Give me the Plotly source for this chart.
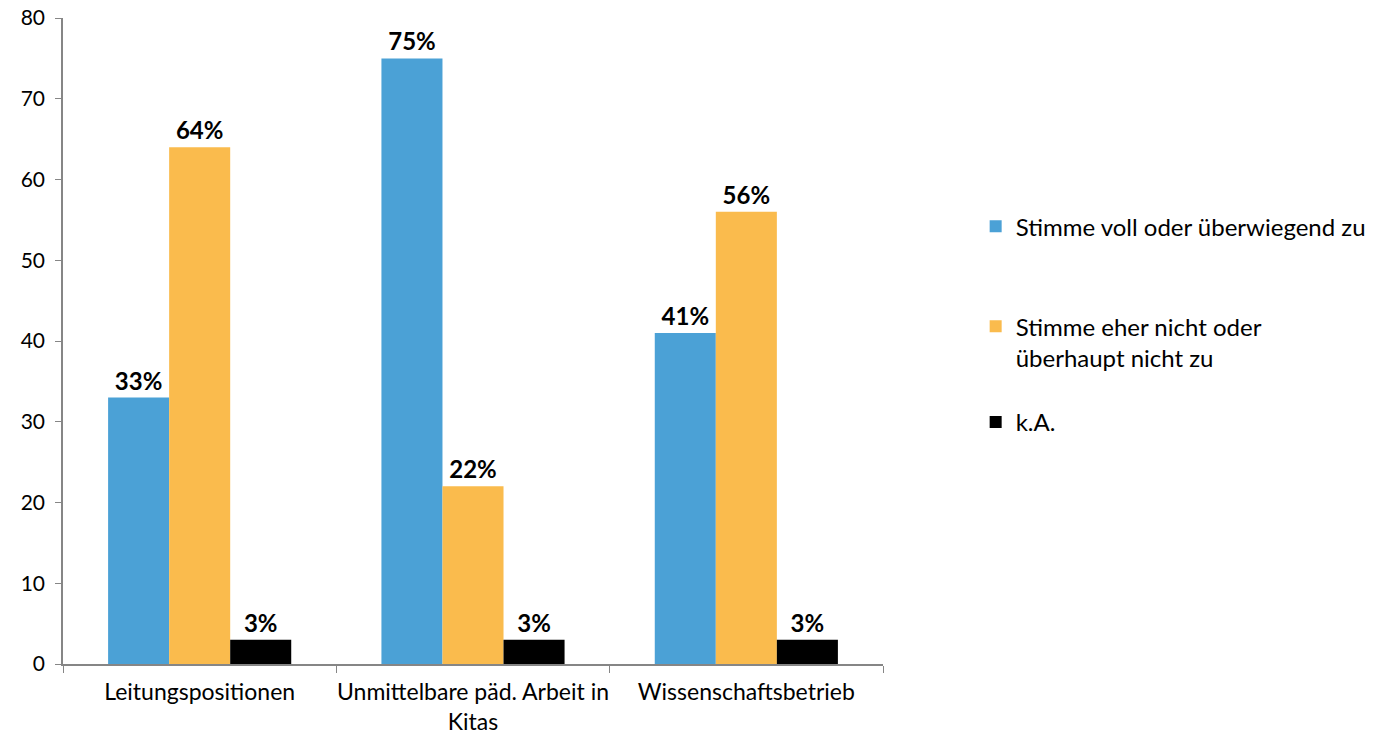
import plotly.graph_objects as go

categories = ["Leitungspositionen", "Unmittelbare päd. Arbeit in<br>Kitas", "Wissenschaftsbetrieb"]
series_names = ["Stimme voll oder überwiegend zu", "Stimme eher nicht oder<br>überhaupt nicht zu", "k.A."]
voll = [33, 75, 41]
eher_nicht = [64, 22, 56]
ka = [3, 3, 3]
colors = ["#4BA1D6", "#FABB4D", "#000000"]
values = [voll, eher_nicht, ka]
legends = ["legend", "legend2", "legend3"]

FONT = "Lato"

fig = go.Figure()
for name, vals, col, lg in zip(series_names, values, colors, legends):
    fig.add_trace(go.Bar(
        x=categories, y=vals, name=name, marker=dict(color=col, line=dict(width=0)),
        text=[f"{v}%" for v in vals], textposition="outside",
        textfont=dict(family=FONT, size=24, color="black", weight="bold"),
        cliponaxis=False, legend=lg, showlegend=True,
    ))

axis_col = "#868686"
leg_common = dict(xanchor="left", yanchor="top", font=dict(size=24, family=FONT),
                  bgcolor="rgba(0,0,0,0)", valign="top")
fig.update_layout(
    width=1383, height=734,
    margin=dict(l=63, r=498, t=18, b=70),
    plot_bgcolor="white", paper_bgcolor="white",
    showlegend=True,
    barmode="group", bargap=0.33, bargroupgap=0,
    font=dict(family=FONT, size=23, color="black"),
    legend=dict(x=1.113, y=0.712, **leg_common),
    legend2=dict(x=1.113, y=0.557, **leg_common),
    legend3=dict(x=1.113, y=0.4087, **leg_common),
    xaxis=dict(showline=True, linecolor=axis_col, linewidth=1.5, ticks="outside",
               tickson="boundaries", ticklen=7, tickcolor=axis_col, showgrid=False,
               tickfont=dict(size=23), tickangle=0, automargin=False,
               ticklabelstandoff=7, ticklabeloverflow="allow"),
    yaxis=dict(range=[0, 80], dtick=10, showline=True, linecolor=axis_col, linewidth=1.5,
               ticks="outside", ticklen=6, tickcolor=axis_col, showgrid=False, zeroline=False,
               tickfont=dict(size=21), ticklabelstandoff=6, automargin=False,
               ticklabeloverflow="allow"),
)

fig.write_html("out.html", config={"displayModeBar": False},
               post_script="document.body.style.margin='0';document.body.style.overflow='hidden';")
